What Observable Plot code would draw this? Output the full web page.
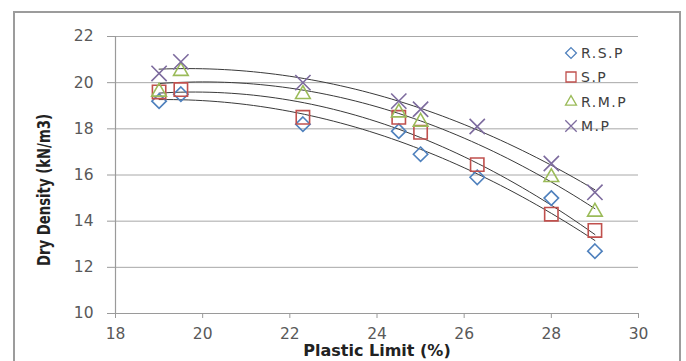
<!DOCTYPE html>
<html>
<head>
<meta charset="utf-8">
<script src="https://cdn.jsdelivr.net/npm/d3@7"></script>
<script src="https://cdn.jsdelivr.net/npm/@observablehq/plot@0.6"></script>
<style>
  html, body { margin: 0; padding: 0; background: #fff; }
  #wrap { position: relative; width: 686px; height: 361px; overflow: hidden; }
  #border { position: absolute; left: 13px; top: 11px; width: 668px; height: 360px; border: 2px solid #9c9c9c; box-sizing: border-box; }
  #chart { position: absolute; left: 0; top: 0; }
  #legend { position: absolute; left: 563px; top: 41px; font-family: "DejaVu Sans", sans-serif; font-size: 14px; letter-spacing: 1.5px; color: #404040; }
  #legend .row { display: flex; align-items: center; height: 24.3px; }
  #legend svg { margin-right: 2px; }
</style>
</head>
<body>
<div id="wrap">
  <div id="border"></div>
  <div id="chart"></div>
  <div id="legend"></div>
</div>
<script>
const seriesNames = ["R.S.P", "S.P", "R.M.P", "M.P"];
const seriesColors = ["#4f81bd", "#c0504d", "#9bbb59", "#7d6b9e"];
const seriesSymbols = ["diamond2", "square2", "triangle2", "times"];
const seriesR = [6.5, 8.5, 7, 7];

const xRSP = [19, 19.5, 22.3, 24.5, 25, 26.3, 28, 29];
const yRSP = [19.2, 19.5, 18.2, 17.9, 16.9, 15.9, 15.0, 12.7];
const xSP = [19, 19.5, 22.3, 24.5, 25, 26.3, 28, 29];
const ySP = [19.6, 19.7, 18.5, 18.5, 17.85, 16.45, 14.3, 13.6];
const xRMP = [19, 19.5, 22.3, 24.5, 25, 28, 29];
const yRMP = [19.6, 20.5, 19.5, 18.7, 18.3, 15.9, 14.4];
const xMP = [19, 19.5, 22.3, 24.5, 25, 26.3, 28, 29];
const yMP = [20.4, 20.9, 20.0, 19.2, 18.85, 18.1, 16.5, 15.25];

const xTicks = [18, 20, 22, 24, 26, 28, 30];
const yTicks = [10, 12, 14, 16, 18, 20, 22];
const xTitle = "Plastic Limit (%)";
const yTitle = "Dry Density (kN/m3)";

const xs = [xRSP, xSP, xRMP, xMP];
const ys = [yRSP, ySP, yRMP, yMP];

const points = [];
seriesNames.forEach((s, i) => xs[i].forEach((x, j) => points.push({series: s, x, y: ys[i][j]})));

// quadratic least-squares trend line per series
function quadFit(X, Y) {
  let S = [0,0,0,0,0], T = [0,0,0];
  X.forEach((x, k) => {
    for (let p = 0; p < 5; p++) S[p] += Math.pow(x, p);
    for (let p = 0; p < 3; p++) T[p] += Math.pow(x, p) * Y[k];
  });
  const A = [[S[0],S[1],S[2],T[0]],[S[1],S[2],S[3],T[1]],[S[2],S[3],S[4],T[2]]];
  for (let c = 0; c < 3; c++) {
    for (let r = c + 1; r < 3; r++) {
      const f = A[r][c] / A[c][c];
      for (let k = c; k < 4; k++) A[r][k] -= f * A[c][k];
    }
  }
  const b = [0,0,0];
  for (let r = 2; r >= 0; r--) {
    let v = A[r][3];
    for (let k = r + 1; k < 3; k++) v -= A[r][k] * b[k];
    b[r] = v / A[r][r];
  }
  return b;
}
const trend = [];
seriesNames.forEach((s, i) => {
  const b = quadFit(xs[i], ys[i]);
  const x0 = d3.min(xs[i]), x1 = d3.max(xs[i]);
  d3.range(0, 61).forEach(k => {
    const x = x0 + (x1 - x0) * k / 60;
    trend.push({series: s, x, y: b[0] + b[1] * x + b[2] * x * x});
  });
});

const chart = Plot.plot({
  width: 686,
  height: 361,
  marginLeft: 115,
  marginRight: 48,
  marginTop: 36,
  marginBottom: 48,
  style: {fontFamily: "DejaVu Sans, sans-serif", fontSize: "15.5px", color: "#595959", background: "transparent"},
  x: {domain: [18, 30]},
  y: {domain: [10, 22]},
  marks: [
    Plot.gridY(yTicks.filter(t => t > 10), {stroke: "#a8a8a8", strokeOpacity: 1, strokeWidth: 1}),
    Plot.ruleY([10], {stroke: "#9a9a9a", strokeWidth: 1.2}),
    Plot.ruleX([18], {stroke: "#9a9a9a", strokeWidth: 1.2}),
    Plot.axisX(xTicks, {tickSize: 5, tickPadding: 9, label: null, stroke: "#9a9a9a", fill: "#595959", style: "letter-spacing:1px"}),
    Plot.axisY(yTicks, {tickSize: 8, tickPadding: 14, label: null, stroke: "#9a9a9a", fill: "#595959", style: "letter-spacing:1px"}),
    Plot.line(trend, {x: "x", y: "y", z: "series", stroke: "#3a3a3a", strokeWidth: 1}),
    ...seriesNames.map((s, i) => Plot.dot(points.filter(d => d.series === s), {
      x: "x", y: "y", symbol: () => seriesSymbols[i], r: seriesR[i],
      stroke: seriesColors[i], strokeWidth: 1.6, fill: "none"
    })),
    Plot.text([xTitle], {frameAnchor: "bottom", dy: 42.5, fontWeight: "bold", fontSize: 16, fill: "#222", text: d => d, style: "letter-spacing:1px", className: "xtitle"}),
    Plot.text([yTitle], {frameAnchor: "left", textAnchor: "middle", dx: -71, dy: 15, rotate: -90, fontWeight: "bold", fontSize: 18, fill: "#222", text: d => d, className: "ytitle"})
  ]
});
document.getElementById("chart").appendChild(chart);
// condense the y-axis title like the narrow bold font of the reference
const yt = chart.querySelector(".ytitle text");
if (yt) { yt.setAttribute("textLength", 152); yt.setAttribute("lengthAdjust", "spacingAndGlyphs"); }

// legend
const legend = document.getElementById("legend");
const symMap = {diamond2: d3.symbolDiamond2, square2: d3.symbolSquare2, triangle2: d3.symbolTriangle2, times: d3.symbolTimes};
seriesNames.forEach((s, i) => {
  const row = document.createElement("div");
  row.className = "row";
  const size = Math.PI * Math.pow(seriesR[i] * 0.75, 2);
  const path = d3.symbol(symMap[seriesSymbols[i]], size)();
  row.innerHTML = `<svg width="16" height="16" viewBox="-8 -8 16 16"><path d="${path}" fill="none" stroke="${seriesColors[i]}" stroke-width="1.3"/></svg><span>${s}</span>`;
  legend.appendChild(row);
});
</script>
</body>
</html>
